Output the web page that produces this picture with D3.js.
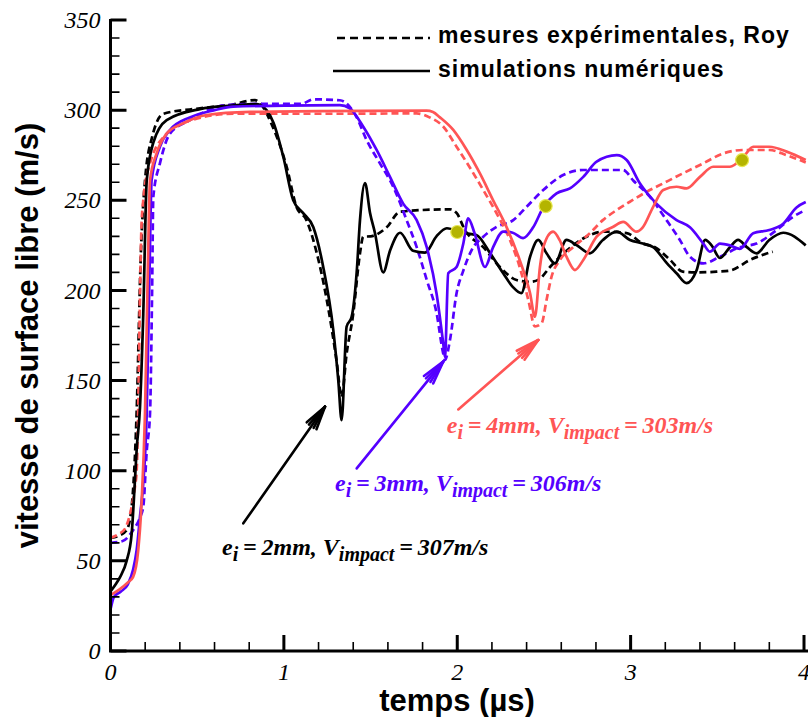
<!DOCTYPE html>
<html><head><meta charset="utf-8">
<script src="https://cdn.jsdelivr.net/npm/d3@7"></script>
<style>body{margin:0;background:#fff} svg{display:block}</style>
</head><body><svg id="c" width="808" height="717"></svg>
<script>
// ---- data (t in µs, v in m/s) ----
const blackSim = [[0,33],[0.03,37],[0.055,41],[0.093,50],[0.122,65],[0.14,93],[0.151,112],[0.17,135],[0.189,187],[0.209,261],[0.247,282],[0.324,294.5],[0.516,300.6],[0.7,302.5],[0.843,303.4],[0.9,300],[0.94,293],[0.997,274],[1.054,250],[1.11,243],[1.17,235],[1.227,213],[1.285,178],[1.314,150],[1.333,128],[1.362,180],[1.39,185],[1.42,210],[1.439,239],[1.468,259.6],[1.497,243],[1.525,232],[1.573,210],[1.612,222],[1.67,232],[1.745,222],[1.814,221],[1.88,230],[1.94,234.5],[2.03,232],[2.11,230.7],[2.19,220.6],[2.265,209.5],[2.32,202],[2.37,198.5],[2.42,218.7],[2.467,228],[2.515,220.6],[2.563,215],[2.63,228],[2.69,225],[2.765,220.6],[2.84,228],[2.92,232.6],[2.996,228],[3.07,226],[3.13,224],[3.21,215],[3.265,209.5],[3.323,204],[3.38,211],[3.43,228],[3.467,225],[3.515,218],[3.573,224],[3.62,228],[3.67,224],[3.726,220.6],[3.8,228],[3.88,232],[4.01,225]];
const blackExp = [[0,62.7],[0.05,64],[0.093,67],[0.122,80],[0.15,130],[0.175,220],[0.2,262],[0.24,285],[0.305,298],[0.516,301],[0.7,303],[0.833,305.6],[0.87,303],[0.93,292],[1.016,268.6],[1.074,246],[1.13,239],[1.19,220.6],[1.244,196.5],[1.304,161],[1.333,141],[1.362,165],[1.4,187],[1.439,220.6],[1.458,229.8],[1.5,230],[1.593,235],[1.67,243.7],[1.958,245],[1.996,243],[2.044,233.5],[2.15,224],[2.246,213],[2.342,205.8],[2.42,204.8],[2.47,206],[2.535,213],[2.63,222],[2.765,230.7],[2.84,232.6],[2.977,231.8],[3.07,226],[3.14,224],[3.227,217],[3.3,210.4],[3.38,210],[3.496,210.4],[3.573,211],[3.69,217],[3.82,221.5]];
const blueSim = [[0,23],[0.02,30],[0.06,33],[0.1,37],[0.13,45],[0.151,56],[0.17,74.5],[0.189,93],[0.209,132],[0.225,210],[0.237,261],[0.285,279.7],[0.343,289],[0.458,296],[0.6,300],[0.708,302],[1.0,302.5],[1.323,302.8],[1.38,301],[1.458,290.8],[1.535,277.9],[1.612,263],[1.689,248],[1.766,239],[1.824,224],[1.881,198],[1.919,170.7],[1.929,163],[1.948,209.5],[1.996,213],[2.035,226],[2.063,240],[2.1,231.7],[2.16,213],[2.207,224],[2.265,232.6],[2.32,232],[2.38,229],[2.438,235],[2.496,246],[2.573,253.8],[2.65,256.6],[2.727,263],[2.804,271.4],[2.92,275],[2.977,272.3],[3.053,259.4],[3.15,248],[3.265,239],[3.342,235],[3.419,226],[3.457,221.5],[3.515,226],[3.573,225],[3.63,223],[3.707,231.7],[3.8,233.5],[3.88,237],[3.957,246],[4.01,249]];
const blueExp = [[0,60],[0.07,61],[0.13,67],[0.17,74],[0.189,80],[0.209,111],[0.228,132],[0.24,200],[0.247,252],[0.285,270.5],[0.343,287],[0.45,294],[0.67,302.8],[0.9,303.5],[1.1,303.5],[1.17,306],[1.323,305.5],[1.42,296],[1.477,283.4],[1.554,270.5],[1.631,257.5],[1.708,239],[1.766,224],[1.824,205.8],[1.881,187.3],[1.919,165],[1.929,161.4],[1.958,172.5],[1.996,198.4],[2.035,211],[2.083,222.4],[2.15,229.8],[2.227,235.3],[2.323,239],[2.4,246.4],[2.496,255.7],[2.611,264],[2.727,266.8],[2.957,266.8],[3.015,261],[3.111,252],[3.207,239],[3.284,228],[3.342,218.7],[3.419,215],[3.515,218.7],[3.63,224],[3.726,226],[3.842,233.5],[3.938,240.9],[4.01,244.6]];
const redSim = [[0,31],[0.05,34],[0.1,38],[0.13,41],[0.16,56],[0.18,83.7],[0.199,132],[0.215,210],[0.228,261],[0.266,276],[0.324,287],[0.42,292.7],[0.555,297.3],[0.804,299],[1.2,299.5],[1.823,299.7],[1.86,299],[1.9,296],[1.977,289],[2.054,278],[2.13,265],[2.207,250],[2.285,235],[2.36,216.9],[2.42,198.4],[2.448,185.4],[2.477,213],[2.496,224],[2.553,232.6],[2.59,228],[2.63,218.7],[2.679,211.3],[2.727,216.9],[2.804,229.8],[2.9,235.3],[2.957,238],[3.034,232.6],[3.07,235],[3.13,246.4],[3.188,255.7],[3.265,257.5],[3.323,256.6],[3.4,263],[3.476,268.6],[3.573,268.6],[3.65,274],[3.707,279.7],[3.8,279.7],[3.9,277],[4.01,272.3]];
const redExp = [[0,62.7],[0.05,65],[0.082,67.6],[0.122,80],[0.141,91],[0.151,100],[0.18,239],[0.189,250],[0.228,270.6],[0.324,287],[0.44,293.6],[0.708,298],[1.285,298],[1.766,298.2],[1.84,296],[1.92,290.8],[1.996,279.7],[2.07,268.6],[2.15,255.7],[2.227,242.8],[2.304,228],[2.36,213],[2.41,194.7],[2.448,180],[2.487,181.8],[2.515,194.7],[2.544,207.6],[2.592,216.9],[2.669,224],[2.765,231.7],[2.84,239],[2.92,244.6],[2.996,249.2],[3.092,254.7],[3.188,259.4],[3.303,265],[3.419,270.5],[3.534,276],[3.65,277.9],[3.8,277.9],[3.9,275],[4.01,271]];
const markerPoints = [[2.0,232.4],[2.51,246.8],[3.643,272.3]];
const yMajorTicks = [0,50,100,150,200,250,300,350];
const yMinorTicks = d3.range(0,351,10);
const xMajorTicks = [0,1,2,3,4];
const xMinorTicks = d3.range(0,21).map(i=>i/5);
const legendLabels = ["mesures expérimentales, Roy","simulations numériques"];
const arrows = [
  {from:[0.766,70.8], to:[1.237,135.5], color:"#000000"},
  {from:[1.42,101.3], to:[1.919,160.5], color:"#5500ff"},
  {from:[2.006,134], to:[2.467,172.5], color:"#ff5555"}
];
const annotations = [
  {at:[0.643,53.2], e:"2mm", v:"307m/s", color:"#000000"},
  {at:[1.295,88.7], e:"3mm", v:"306m/s", color:"#5500ff"},
  {at:[1.94,120.9], e:"4mm", v:"303m/s", color:"#ff5555"}
];

// ---- chart ----
const x = d3.scaleLinear().domain([0,4]).range([110.5,804]);
const y = d3.scaleLinear().domain([0,350]).range([651,20]);
const svg = d3.select('#c');
svg.append('defs').append('clipPath').attr('id','clip')
  .append('rect').attr('x',111).attr('y',0).attr('width',700).attr('height',651);

const line = d3.line().x(d=>x(d[0])).y(d=>y(d[1])).curve(d3.curveMonotoneX);
const series = [
  {d:blackExp,c:"#000000",dash:true},{d:blueExp,c:"#5500ff",dash:true},{d:redExp,c:"#ff5555",dash:true},
  {d:blackSim,c:"#000000",dash:false},{d:blueSim,c:"#5500ff",dash:false},{d:redSim,c:"#ff5555",dash:false}
];
const g = svg.append('g').attr('clip-path','url(#clip)');
series.forEach(s=>{
  g.append('path').attr('d',line(s.d)).attr('fill','none').attr('stroke',s.c)
   .attr('stroke-width',2.7).attr('stroke-linejoin','round')
   .attr('stroke-dasharray',s.dash?'7,4':null);
});
g.selectAll('circle.m').data(markerPoints).join('circle')
  .attr('cx',d=>x(d[0])).attr('cy',d=>y(d[1])).attr('r',6.5)
  .attr('fill','#b4b400').attr('stroke','#e8e850').attr('stroke-width',1.2);

// axes (ticks pointing inward), built as paths from the scales
const tickFont = "'Liberation Serif', 'Times New Roman', serif";
const ax = svg.append('g');
const X0 = x(0), Y0 = y(0);
const yMinPath = yMinorTicks.map(v=>`M${X0},${y(v)}h9`).join('');
const yMajPath = yMajorTicks.map(v=>`M${X0},${y(v)}h16`).join('');
const xMinPath = xMinorTicks.map(v=>`M${x(v)},${Y0}v-9`).join('');
const xMajPath = xMajorTicks.map(v=>`M${x(v)},${Y0}v-16`).join('');
ax.append('path').attr('d',yMinPath+xMinPath).attr('fill','none').attr('stroke','#000').attr('stroke-width',1.6);
ax.append('path').attr('d',yMajPath+xMajPath).attr('fill','none').attr('stroke','#000').attr('stroke-width',3);
ax.append('path').attr('d',`M${X0},${y(350)-1}V${Y0}H${x(4)+4}`)
  .attr('fill','none').attr('stroke','#000').attr('stroke-width',3);
ax.selectAll('text.yl').data(yMajorTicks).join('text')
  .attr('x',X0-10).attr('y',d=>y(d)).attr('dy','0.34em').attr('text-anchor','end')
  .attr('font-family',tickFont).attr('font-style','italic').attr('font-size',24).text(d=>d);
ax.selectAll('text.xl').data(xMajorTicks).join('text')
  .attr('x',d=>x(d)).attr('y',Y0+29).attr('text-anchor','middle')
  .attr('font-family',tickFont).attr('font-style','italic').attr('font-size',24).text(d=>d);

// axis titles
svg.append('text').attr('x',457).attr('y',711).attr('text-anchor','middle')
  .attr('font-family',"'Liberation Sans', Arial, sans-serif").attr('font-weight','bold')
  .attr('font-size',31).text('temps (µs)');
svg.append('text').attr('transform','translate(38,335.5) rotate(-90)').attr('text-anchor','middle')
  .attr('font-family',"'Liberation Sans', Arial, sans-serif").attr('font-weight','bold')
  .attr('font-size',31).text('vitesse de surface libre (m/s)');

// legend
const lg = svg.append('g');
lg.append('line').attr('x1',337).attr('x2',430).attr('y1',38).attr('y2',38)
  .attr('stroke','#000').attr('stroke-width',2.6).attr('stroke-dasharray','8,5');
lg.append('line').attr('x1',333).attr('x2',430).attr('y1',71).attr('y2',71)
  .attr('stroke','#000').attr('stroke-width',2.6);
legendLabels.forEach((t,i)=>{
  lg.append('text').attr('x',438).attr('y',i?76.7:43.3)
    .attr('font-family',"'Liberation Sans', Arial, sans-serif").attr('font-weight','bold')
    .attr('font-size',23).attr('letter-spacing',1).text(t);
});

// arrows
arrows.forEach(a=>{
  const x1=x(a.from[0]), y1=y(a.from[1]), x2=x(a.to[0]), y2=y(a.to[1]);
  const ang=Math.atan2(y2-y1,x2-x1), L=24;
  const ag=svg.append('g').attr('stroke',a.color).attr('stroke-width',2.6).attr('fill','none').attr('stroke-linecap','round');
  ag.append('line').attr('x1',x1).attr('y1',y1).attr('x2',x2).attr('y2',y2);
  [-0.25,-0.12,0.12,0.25].forEach(da=>{
    ag.append('line').attr('x1',x2).attr('y1',y2)
      .attr('x2',x2-L*Math.cos(ang+da)).attr('y2',y2-L*Math.sin(ang+da));
  });
});

// annotations
annotations.forEach(a=>{
  const t = svg.append('text').attr('x',x(a.at[0])).attr('y',y(a.at[1]))
    .attr('font-family',tickFont).attr('font-weight','bold').attr('font-style','italic')
    .attr('font-size',24).attr('fill',a.color).style('white-space','pre');
  t.append('tspan').text('e');
  t.append('tspan').attr('dy',6).attr('font-size',20).text('i');
  t.append('tspan').attr('dy',-6).text('\u2009=\u2009'+a.e+', V');
  t.append('tspan').attr('dy',6).attr('font-size',20).text('impact');
  t.append('tspan').attr('dy',-6).text('\u2009=\u2009'+a.v);
});
</script></body></html>
